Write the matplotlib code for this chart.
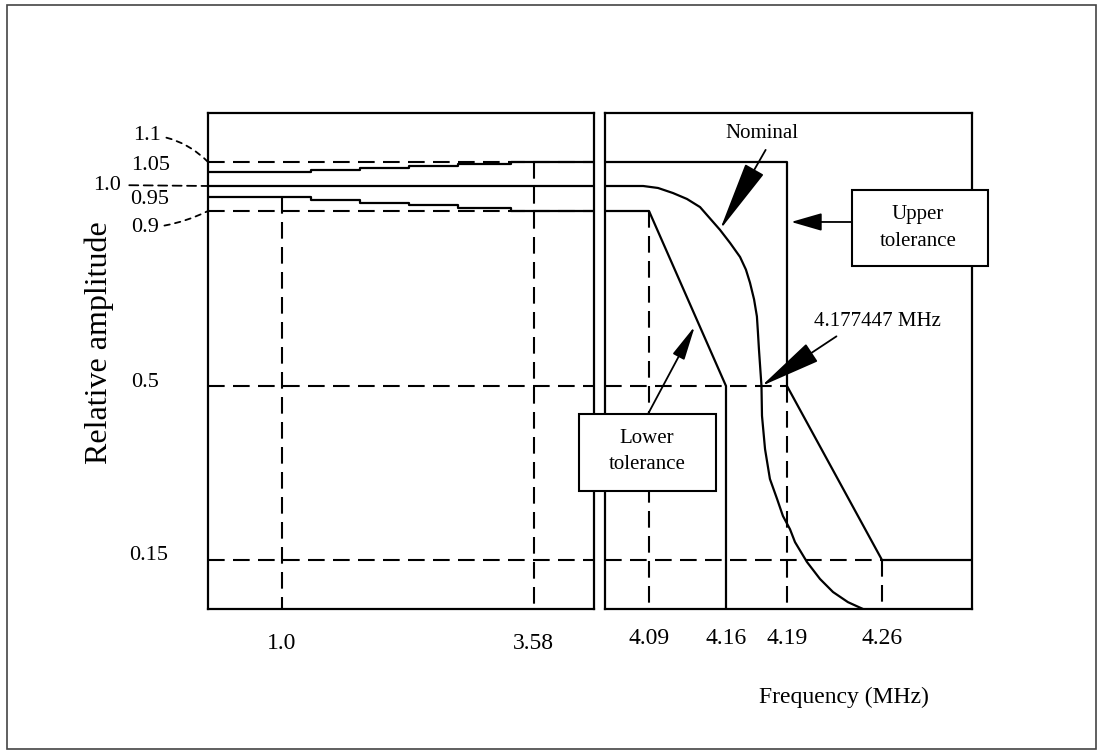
import numpy as np
import matplotlib
matplotlib.use("Agg")
import matplotlib.pyplot as plt
from matplotlib.patches import Rectangle

plt.rcParams['font.family'] = ['Liberation Serif', 'DejaVu Serif']

# amplitude levels of the tolerance mask
amp_levels = [0.15, 0.5, 0.9, 0.95, 1.0, 1.05, 1.1]

# low band (0 .. 4.2 MHz): stepped upper / lower tolerance
low_freq = [0.24, 1.3, 1.8, 2.3, 2.8, 3.35, 4.2]
low_upper = [1.05, 1.06, 1.07, 1.08, 1.09, 1.10, 1.10]
low_lower = [0.95, 0.94, 0.93, 0.92, 0.91, 0.90, 0.90]
low_marks = [1.0, 3.58]

# high band (4.05 .. 4.33 MHz)
upper_freq = [4.05, 4.19, 4.19, 4.26, 4.33]
upper_amp = [1.10, 1.10, 0.50, 0.15, 0.15]
lower_freq = [4.05, 4.09, 4.16, 4.16]
lower_amp = [0.90, 0.90, 0.50, 0.0]
nominal_freq = [4.05, 4.0847, 4.0982, 4.1118, 4.1245, 4.1364, 4.1545, 4.162,
                4.1669, 4.1698, 4.1718, 4.1738, 4.1752, 4.1757, 4.1762, 4.177447,
                4.1777, 4.1792, 4.1816, 4.1851, 4.188, 4.1922, 4.1959, 4.2047,
                4.2143, 4.2239, 4.2349, 4.246]
nominal_amp = [1.0, 1.0, 0.991, 0.968, 0.943, 0.914, 0.857, 0.827,
               0.795, 0.766, 0.736, 0.698, 0.659, 0.623, 0.584, 0.5,
               0.44, 0.373, 0.313, 0.273, 0.2385, 0.212, 0.186, 0.144,
               0.092, 0.052, 0.021, 0.0]
high_marks = [4.09, 4.16, 4.19, 4.26]
half_freq = 4.177447

# the drawing is not to scale: piecewise axes
amp_anchor = [0.0, 0.15, 0.5, 0.9, 0.95, 1.0, 1.05, 1.1, 1.3]
amp_px = [0, 49, 223, 398, 412, 423, 437, 447, 496]
freq_anchor = [4.05, 4.09, 4.16, 4.19, 4.26, 4.33]
freq_px = [0, 44, 121, 182, 277, 367]


def amp_fwd(v):
    return np.interp(v, amp_anchor, amp_px)


def amp_inv(p):
    return np.interp(p, amp_px, amp_anchor)


def freq_fwd(v):
    return np.interp(v, freq_anchor, freq_px)


def freq_inv(p):
    return np.interp(p, freq_px, freq_anchor)


W, H = 1098, 751


def fx(x):
    return x / W


def fy(y):
    return 1 - y / H


fig = plt.figure(figsize=(W / 100, H / 100), dpi=100)

ax_l = fig.add_axes([fx(208), fy(609), (594 - 208) / W, (609 - 113) / H])
ax_r = fig.add_axes([fx(605), fy(609), (972 - 605) / W, (609 - 113) / H])

for ax in (ax_l, ax_r):
    ax.set_yscale('function', functions=(amp_fwd, amp_inv))
    ax.set_ylim(0, 1.3)
    ax.set_yticks([])
    ax.minorticks_off()
    for sp in ax.spines.values():
        sp.set_linewidth(1.6)
    ax.tick_params(axis='x', length=0, labelsize=17)

ax_l.set_xlim(low_freq[0], low_freq[-1])
ax_r.set_xscale('function', functions=(freq_fwd, freq_inv))
ax_r.set_xlim(freq_anchor[0], freq_anchor[-1])
ax_r.minorticks_off()

solid = dict(color='black', lw=1.6)
dash = dict(color='black', lw=1.5, ls=(0, (8, 4)))

# left panel
ax_l.step(low_freq, low_upper, where='post', **solid)
ax_l.step(low_freq, low_lower, where='post', **solid)
ax_l.axhline(1.0, **solid)
for a in [1.1, 0.9, 0.5, 0.15]:
    ax_l.axhline(a, **dash)
ax_l.plot([low_marks[0]] * 2, [0.95, 0], **dash)
ax_l.plot([low_marks[1]] * 2, [1.1, 0], **dash)
ax_l.set_xticks(low_marks, ['1.0', '3.58'])
ax_l.tick_params(axis='x', pad=17)

# right panel
ax_r.plot(upper_freq, upper_amp, **solid)
ax_r.plot(lower_freq, lower_amp, **solid)
ax_r.plot(nominal_freq, nominal_amp, solid_joinstyle='round', **solid)
ax_r.plot([4.05, 4.19], [0.5, 0.5], **dash)
ax_r.plot([4.05, 4.26], [0.15, 0.15], **dash)
ax_r.plot([4.09, 4.09], [0.9, 0], **dash)
ax_r.plot([4.19, 4.19], [0.5, 0], **dash)
ax_r.plot([4.26, 4.26], [0.15, 0], **dash)
ax_r.set_xticks(high_marks, ['4.09', '4.16', '4.19', '4.26'])
ax_r.tick_params(axis='x', pad=14)

# amplitude labels, some with dashed leaders
lead = dict(arrowstyle='-', color='black', lw=1.3, ls=(0, (3, 3)), shrinkA=2, shrinkB=0)
ax_l.annotate('1.1', xy=(0, 1.1), xycoords=('axes fraction', 'data'),
              xytext=(147, H - 135), textcoords='figure pixels', fontsize=16,
              ha='center', va='center', annotation_clip=False,
              arrowprops=dict(lead, connectionstyle='arc3,rad=-0.2'))
ax_l.annotate('1.0', xy=(0, 1.0), xycoords=('axes fraction', 'data'),
              xytext=(107, H - 185), textcoords='figure pixels', fontsize=16,
              ha='center', va='center', annotation_clip=False,
              arrowprops=dict(lead, ls=(0, (5, 3)), shrinkA=4))
ax_l.annotate('0.9', xy=(0, 0.9), xycoords=('axes fraction', 'data'),
              xytext=(145, H - 228), textcoords='figure pixels', fontsize=16,
              ha='center', va='center', annotation_clip=False,
              arrowprops=dict(lead, connectionstyle='arc3,rad=0.1'))
for txt, x, y in [('1.05', 151, 165), ('0.95', 150, 200), ('0.5', 145, 382), ('0.15', 149, 555)]:
    fig.text(fx(x), fy(y), txt, fontsize=16, ha='center', va='center')

fig.text(fx(99), fy(343), 'Relative amplitude', fontsize=23, rotation=90,
         ha='center', va='center')
fig.text(fx(844), fy(697), 'Frequency (MHz)', fontsize=17, ha='center', va='center')

# callouts
ax_r.annotate('Nominal', xy=(nominal_freq[6], nominal_amp[6]),
              xytext=(762, H - 134), textcoords='figure pixels', fontsize=15,
              ha='center', va='center',
              arrowprops=dict(arrowstyle='-|>,head_length=3.0,head_width=0.45',
                              color='black', lw=1.3, relpos=(0.6, 0), shrinkA=3, shrinkB=0))
ax_r.annotate('4.177447 MHz', xy=(half_freq, 0.5),
              xytext=(877, H - 321), textcoords='figure pixels', fontsize=15,
              ha='center', va='center',
              arrowprops=dict(arrowstyle='-|>,head_length=2.6,head_width=0.45',
                              color='black', lw=1.3, relpos=(0.25, 0), shrinkA=4, shrinkB=0))

box_kw = dict(transform=fig.transFigure, fc='white', ec='black', lw=1.5, zorder=3)
fig.add_artist(Rectangle((fx(852), fy(266)), (988 - 852) / W, (266 - 190) / H, **box_kw))
fig.text(fx(918), fy(228), 'Upper\ntolerance', fontsize=15, ha='center', va='center',
         linespacing=1.5, zorder=4)
ax_r.annotate('', xy=(4.19, 0.875), xytext=(852, H - 222), textcoords='figure pixels',
              arrowprops=dict(arrowstyle='-|>,head_length=1.9,head_width=0.55',
                              color='black', lw=1.3, shrinkA=0, shrinkB=3))

fig.add_artist(Rectangle((fx(579), fy(491)), (716 - 579) / W, (491 - 414) / H, **box_kw))
fig.text(fx(647), fy(452), 'Lower\ntolerance', fontsize=15, ha='center', va='center',
         linespacing=1.5, zorder=4)
ax_r.annotate('', xy=(4.1341, 0.648), xytext=(648, H - 414), textcoords='figure pixels',
              arrowprops=dict(arrowstyle='-|>,head_length=2.1,head_width=0.4',
                              color='black', lw=1.3, shrinkA=0, shrinkB=4))

# thin frame round the whole drawing
fig.add_artist(Rectangle((fx(7), fy(749)), (1096 - 7) / W, (749 - 5) / H,
                         transform=fig.transFigure, fill=False, ec='#444444', lw=1.2))

fig.savefig('out.png', dpi=100)
